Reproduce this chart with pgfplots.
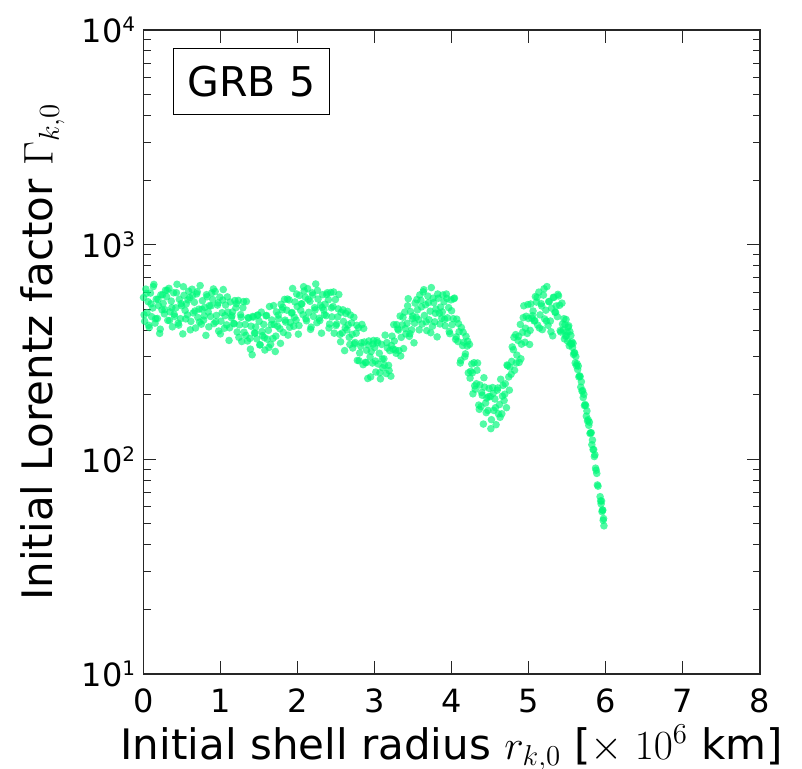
\documentclass[border=0pt]{standalone}
\usepackage[no-math]{fontspec}
\setmainfont{DejaVu Sans}
\usepackage{pgfplots}
\usepackage{pgfplotstable}
\pgfplotsset{compat=1.18}
\definecolor{sg}{RGB}{0,248,122}
\newcommand{\tl}[1]{10\raisebox{5.5pt}{\fontsize{10}{10}\selectfont #1}}
\pgfplotstableread[row sep=\\]{x y\\
0 567\\ 0.015 440\\ 0.03 621\\ 0.045 482\\ 0.06 542\\ 0.075 411\\ 0.09 595\\ 0.105 462\\ 0.12 507\\ 0.135 653\\
0.15 431\\ 0.165 557\\ 0.18 453\\ 0.195 520\\ 0.21 386\\ 0.225 584\\ 0.24 497\\ 0.255 533\\ 0.27 476\\ 0.285 613\\
0.3 572\\ 0.315 444\\ 0.33 626\\ 0.345 486\\ 0.36 546\\ 0.375 414\\ 0.39 597\\ 0.405 463\\ 0.42 508\\ 0.435 654\\
0.45 431\\ 0.465 556\\ 0.48 452\\ 0.495 519\\ 0.51 384\\ 0.525 581\\ 0.54 494\\ 0.555 530\\ 0.57 471\\ 0.585 607\\
0.6 567\\ 0.615 439\\ 0.63 620\\ 0.645 481\\ 0.66 539\\ 0.675 409\\ 0.69 590\\ 0.705 458\\ 0.72 501\\ 0.735 645\\
0.75 426\\ 0.765 548\\ 0.78 445\\ 0.795 510\\ 0.81 378\\ 0.825 572\\ 0.84 486\\ 0.855 520\\ 0.87 463\\ 0.885 596\\
0.9 555\\ 0.915 429\\ 0.93 605\\ 0.945 468\\ 0.96 523\\ 0.975 396\\ 0.99 570\\ 1.005 440\\ 1.02 482\\ 1.035 618\\
1.05 408\\ 1.065 523\\ 1.08 423\\ 1.095 485\\ 1.11 358\\ 1.125 541\\ 1.14 457\\ 1.155 486\\ 1.17 430\\ 1.185 549\\
1.2 509\\ 1.215 392\\ 1.23 550\\ 1.245 423\\ 1.26 472\\ 1.275 354\\ 1.29 508\\ 1.305 391\\ 1.32 425\\ 1.335 544\\
1.35 356\\ 1.365 455\\ 1.38 366\\ 1.395 417\\ 1.41 307\\ 1.425 460\\ 1.44 388\\ 1.455 413\\ 1.47 364\\ 1.485 470\\
1.5 440\\ 1.515 342\\ 1.53 485\\ 1.545 377\\ 1.56 425\\ 1.575 323\\ 1.59 466\\ 1.605 363\\ 1.62 399\\ 1.635 515\\
1.65 343\\ 1.665 446\\ 1.68 366\\ 1.695 425\\ 1.71 318\\ 1.725 486\\ 1.74 417\\ 1.755 451\\ 1.77 406\\ 1.785 528\\
1.8 497\\ 1.815 390\\ 1.83 556\\ 1.845 436\\ 1.86 495\\ 1.875 379\\ 1.89 553\\ 1.905 434\\ 1.92 480\\ 1.935 625\\
1.95 417\\ 1.965 541\\ 1.98 445\\ 1.995 515\\ 2.01 383\\ 2.025 580\\ 2.04 494\\ 2.055 530\\ 2.07 472\\ 2.085 609\\
2.1 569\\ 2.115 442\\ 2.13 624\\ 2.145 484\\ 2.16 545\\ 2.175 413\\ 2.19 597\\ 2.205 463\\ 2.22 509\\ 2.235 656\\
2.25 433\\ 2.265 558\\ 2.28 454\\ 2.295 522\\ 2.31 387\\ 2.325 585\\ 2.34 496\\ 2.355 528\\ 2.37 467\\ 2.385 597\\
2.4 554\\ 2.415 427\\ 2.43 599\\ 2.445 461\\ 2.46 515\\ 2.475 387\\ 2.49 555\\ 2.505 427\\ 2.52 461\\ 2.535 586\\
2.55 382\\ 2.565 484\\ 2.58 388\\ 2.595 439\\ 2.61 321\\ 2.625 478\\ 2.64 401\\ 2.655 423\\ 2.67 370\\ 2.685 470\\
2.7 432\\ 2.715 330\\ 2.73 459\\ 2.745 350\\ 2.76 387\\ 2.775 289\\ 2.79 410\\ 2.805 313\\ 2.82 336\\ 2.835 425\\
2.85 276\\ 2.865 352\\ 2.88 283\\ 2.895 322\\ 2.91 238\\ 2.925 356\\ 2.94 300\\ 2.955 318\\ 2.97 281\\ 2.985 358\\
3.0 332\\ 3.015 255\\ 3.03 357\\ 3.045 278\\ 3.06 312\\ 3.075 237\\ 3.09 343\\ 3.105 267\\ 3.12 294\\ 3.135 379\\
3.15 251\\ 3.165 330\\ 3.18 274\\ 3.195 321\\ 3.21 244\\ 3.225 375\\ 3.24 326\\ 3.255 356\\ 3.27 323\\ 3.285 424\\
3.3 405\\ 3.315 321\\ 3.33 465\\ 3.345 370\\ 3.36 423\\ 3.375 328\\ 3.39 485\\ 3.405 384\\ 3.42 430\\ 3.435 560\\
3.45 374\\ 3.465 488\\ 3.48 401\\ 3.495 465\\ 3.51 349\\ 3.525 534\\ 3.54 459\\ 3.555 497\\ 3.57 448\\ 3.585 583\\
3.6 550\\ 3.615 427\\ 3.63 603\\ 3.645 468\\ 3.66 525\\ 3.675 398\\ 3.69 576\\ 3.705 447\\ 3.72 490\\ 3.735 631\\
3.75 417\\ 3.765 537\\ 3.78 437\\ 3.795 501\\ 3.81 372\\ 3.825 563\\ 3.84 479\\ 3.855 512\\ 3.87 454\\ 3.885 583\\
3.9 542\\ 3.915 419\\ 3.93 589\\ 3.945 456\\ 3.96 509\\ 3.975 385\\ 3.99 553\\ 4.005 424\\ 4.02 452\\ 4.035 564\\
4.05 362\\ 4.065 450\\ 4.08 354\\ 4.095 393\\ 4.11 281\\ 4.125 411\\ 4.14 339\\ 4.155 351\\ 4.17 301\\ 4.185 374\\
4.2 337\\ 4.215 253\\ 4.23 343\\ 4.245 257\\ 4.26 278\\ 4.275 202\\ 4.29 282\\ 4.305 212\\ 4.32 225\\ 4.335 281\\
4.35 179\\ 4.365 222\\ 4.38 176\\ 4.395 199\\ 4.41 146\\ 4.425 217\\ 4.44 183\\ 4.455 193\\ 4.47 169\\ 4.485 214\\
4.5 196\\ 4.515 153\\ 4.53 216\\ 4.545 169\\ 4.56 191\\ 4.575 145\\ 4.59 210\\ 4.605 163\\ 4.62 180\\ 4.635 236\\
4.65 163\\ 4.665 221\\ 4.68 188\\ 4.695 225\\ 4.71 174\\ 4.725 273\\ 4.74 242\\ 4.755 269\\ 4.77 249\\ 4.785 334\\
4.8 324\\ 4.815 260\\ 4.83 381\\ 4.845 306\\ 4.86 358\\ 4.875 283\\ 4.89 425\\ 4.905 344\\ 4.92 391\\ 4.935 519\\
4.95 351\\ 4.965 464\\ 4.98 386\\ 4.995 453\\ 5.01 343\\ 5.025 529\\ 5.04 454\\ 5.055 491\\ 5.07 441\\ 5.085 573\\
5.1 540\\ 5.115 422\\ 5.13 601\\ 5.145 471\\ 5.16 531\\ 5.175 402\\ 5.19 582\\ 5.205 451\\ 5.22 495\\ 5.235 638\\
5.25 421\\ 5.265 543\\ 5.28 441\\ 5.295 506\\ 5.31 376\\ 5.325 568\\ 5.34 484\\ 5.355 518\\ 5.37 462\\ 5.385 577\\
5.4 522\\ 5.415 392\\ 5.43 534\\ 5.445 400\\
5.455 452\\ 5.462 364\\ 5.469 424\\ 5.476 375\\ 5.483 448\\ 5.49 377\\ 5.497 392\\ 5.504 355\\ 5.511 413\\ 5.518 419\\
5.525 338\\ 5.532 394\\ 5.539 347\\ 5.546 378\\ 5.553 344\\ 5.56 352\\ 5.567 332\\ 5.574 347\\ 5.581 308\\ 5.588 314\\
5.595 313\\ 5.602 281\\ 5.61 301\\ 5.618 273\\ 5.626 279\\ 5.634 262\\ 5.642 272\\ 5.65 242\\ 5.658 245\\ 5.666 243\\
5.674 217\\ 5.682 230\\ 5.69 208\\ 5.698 209\\ 5.706 194\\ 5.714 201\\ 5.722 178\\ 5.73 180\\ 5.738 178\\ 5.746 159\\
5.754 168\\ 5.762 151\\ 5.77 153\\ 5.778 144\\ 5.786 149\\ 5.794 132\\ 5.802 133\\ 5.81 133\\ 5.818 117\\ 5.826 123\\
5.834 111\\ 5.842 111\\ 5.85 103\\ 5.858 105\\ 5.866 91\\ 5.874 89\\ 5.882 86\\ 5.89 76\\ 5.898 75\\ 5.925 67\\
5.932 64\\ 5.938 62\\ 5.944 64\\ 5.95 57\\ 5.955 58\\ 5.96 58\\ 5.965 52\\ 5.97 53\\ 5.975 49\\
}\grbdata
\pgfplotstableread[row sep=\\]{x y\\
0.0075 471\\ 0.0375 593\\ 0.0675 421\\ 0.0975 530\\ 0.1275 638\\ 0.1575 452\\ 0.1875 557\\ 0.2175 404\\ 0.2475 584\\ 0.2775 498\\
0.3075 613\\ 0.3375 443\\ 0.3675 509\\ 0.3975 474\\ 0.4275 597\\ 0.4575 422\\ 0.4875 531\\ 0.5175 637\\ 0.5475 451\\ 0.5775 553\\
0.6075 401\\ 0.6375 579\\ 0.6675 491\\ 0.6975 603\\ 0.7275 436\\ 0.7575 500\\ 0.7875 466\\ 0.8175 585\\ 0.8475 414\\ 0.8775 519\\
0.9075 622\\ 0.9375 437\\ 0.9675 535\\ 0.9975 384\\ 1.0275 552\\ 1.0575 467\\ 1.0875 571\\ 1.1175 410\\ 1.1475 466\\ 1.1775 428\\
1.2075 531\\ 1.2375 370\\ 1.2675 459\\ 1.2975 543\\ 1.3275 378\\ 1.3575 457\\ 1.3875 326\\ 1.4175 463\\ 1.4475 387\\ 1.4775 469\\
1.5075 341\\ 1.5375 394\\ 1.5675 369\\ 1.5975 468\\ 1.6275 332\\ 1.6575 424\\ 1.6875 520\\ 1.7175 375\\ 1.7475 470\\ 1.7775 347\\
1.8075 511\\ 1.8375 445\\ 1.8675 558\\ 1.8975 412\\ 1.9275 483\\ 1.9575 459\\ 1.9875 589\\ 2.0175 420\\ 2.0475 530\\ 2.0775 637\\
2.1075 452\\ 2.1375 556\\ 2.1675 403\\ 2.1975 583\\ 2.2275 497\\ 2.2575 612\\ 2.2875 443\\ 2.3175 510\\ 2.3475 472\\ 2.3775 586\\
2.4075 409\\ 2.4375 508\\ 2.4675 602\\ 2.4975 420\\ 2.5275 502\\ 2.5575 353\\ 2.5875 497\\ 2.6175 410\\ 2.6475 489\\ 2.6775 343\\
2.7075 382\\ 2.7375 345\\ 2.7675 421\\ 2.7975 288\\ 2.8275 349\\ 2.8575 407\\ 2.8875 282\\ 2.9175 341\\ 2.9475 242\\ 2.9775 344\\
3.0075 287\\ 3.0375 349\\ 3.0675 253\\ 3.0975 293\\ 3.1275 274\\ 3.1575 350\\ 3.1875 259\\ 3.2175 339\\ 3.2475 424\\ 3.2775 312\\
3.3075 400\\ 3.3375 303\\ 3.3675 459\\ 3.3975 407\\ 3.4275 519\\ 3.4575 385\\ 3.4875 452\\ 3.5175 431\\ 3.5475 555\\ 3.5775 401\\
3.6075 513\\ 3.6375 617\\ 3.6675 437\\ 3.6975 537\\ 3.7275 389\\ 3.7575 563\\ 3.7875 479\\ 3.8175 589\\ 3.8475 427\\ 3.8775 486\\
3.9075 450\\ 3.9375 562\\ 3.9675 394\\ 3.9975 492\\ 4.0275 560\\ 4.0575 372\\ 4.0875 429\\ 4.1175 289\\ 4.1475 391\\ 4.1775 310\\
4.2075 355\\ 4.2375 239\\ 4.2675 253\\ 4.2975 220\\ 4.3275 260\\ 4.3575 171\\ 4.3875 205\\ 4.4175 240\\ 4.4475 165\\ 4.4775 196\\
4.5075 139\\ 4.5375 203\\ 4.5675 174\\ 4.5975 215\\ 4.6275 157\\ 4.6575 197\\ 4.6875 201\\ 4.7175 275\\ 4.7475 210\\ 4.7775 286\\
4.8075 370\\ 4.8375 281\\ 4.8675 374\\ 4.8975 294\\ 4.9275 457\\ 4.9575 408\\ 4.9875 526\\ 5.0175 399\\ 5.0475 467\\ 5.0775 443\\
5.1075 568\\ 5.1375 409\\ 5.1675 518\\ 5.1975 623\\ 5.2275 441\\ 5.2575 543\\ 5.2875 393\\ 5.3175 568\\ 5.3475 484\\ 5.3775 587\\
5.4075 398\\ 5.4375 427\\
}\grbdatab
\begin{document}
\begin{tikzpicture}
\begin{axis}[
  scale only axis, width=308.25pt, height=322pt,
  ymode=log, xmin=0, xmax=8, ymin=10, ymax=10000,
  xtick={0,1,2,3,4,5,6,7,8}, xticklabels={0,1,2,3,4,5,6,7,8},
  ytick={10,100,1000,10000}, yticklabels={\tl{1},\tl{2},\tl{3},\tl{4}},
  minor ytick={20,30,40,50,60,70,80,90,200,300,400,500,600,700,800,900,2000,3000,4000,5000,6000,7000,8000,9000},
  tick align=inside, major tick length=6.3pt, minor tick length=3.5pt,
  axis line style={line width=0.6pt, black!85},
  every tick/.style={line width=0.5pt, black!85},
  tick label style={font=\fontsize{16}{16}\selectfont},
  xticklabel style={anchor=base, inner sep=0pt, yshift=-19pt},
  yticklabel style={anchor=east, inner sep=0pt, xshift=-4pt},
  xlabel={Initial shell radius $r_{k,0}$ [$\times\;10^6$ km]},
  ylabel={Initial Lorentz factor $\Gamma_{k,0}$},
  label style={font=\fontsize{21}{21}\selectfont},
  xlabel style={at={([yshift=-42.5pt]rel axis cs:0.5,0)}, anchor=base},
  ylabel style={at={([xshift=-50.5pt]rel axis cs:0,0.5)}, anchor=center},
]
\addplot[only marks, mark=*, mark size=1.9pt, color=sg, mark options={draw opacity=0, fill opacity=0.68}] table {\grbdata};
\addplot[only marks, mark=*, mark size=1.9pt, color=sg, mark options={draw opacity=0, fill opacity=0.68}] table {\grbdatab};
\node[draw=black, line width=0.6pt, anchor=north west, inner xsep=7pt, inner ysep=0pt, minimum height=33pt, font=\fontsize{20.5}{20.5}\selectfont, fill=white] at (rel axis cs:0.048,0.972) {GRB 5};
\coordinate (O) at (rel axis cs:0,0);
\coordinate (T) at (rel axis cs:1,1);
\end{axis}
\pgfresetboundingbox
\path ([xshift=-71.75pt,yshift=-47pt]O) rectangle ([xshift=21pt,yshift=15pt]T);
\end{tikzpicture}
\end{document}
